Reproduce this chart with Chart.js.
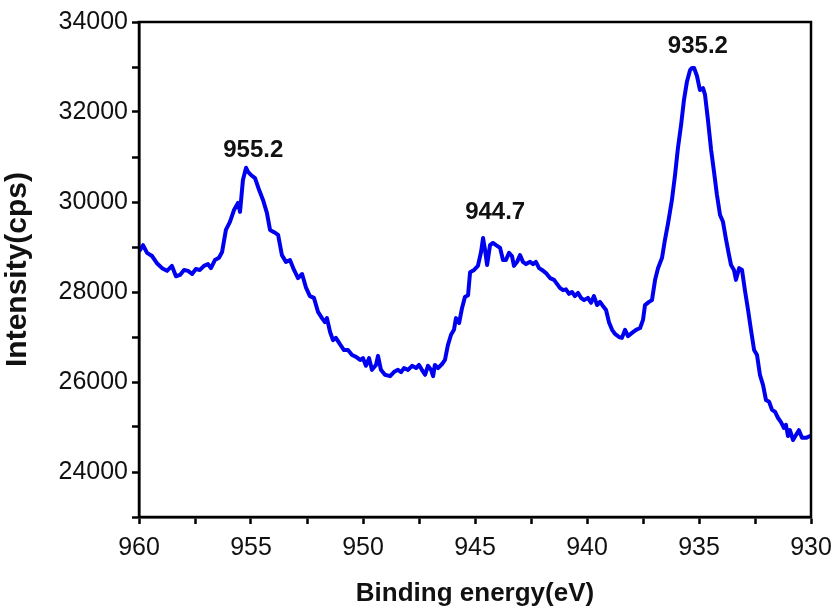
<!DOCTYPE html>
<html>
<head>
<meta charset="utf-8">
<script src="https://cdn.jsdelivr.net/npm/chart.js@4/dist/chart.umd.min.js"></script>
<style>
	html, body { margin: 0; padding: 0; background: #fff; }
	#chart-parent { width: 833px; height: 610px; }
</style>
</head>
<body>
<div id="chart-parent"><canvas id="chart" width="833" height="610"></canvas></div>
<script>
// values (binding energy in eV, intensity in cps)
var bindingEnergy = [
	959.96, 959.82, 959.64, 959.42, 959.20, 958.97, 958.75, 958.53, 958.35, 958.17,
	957.99, 957.81, 957.63, 957.46, 957.28, 957.10, 956.92, 956.79, 956.61, 956.43,
	956.29, 956.12, 955.94, 955.76, 955.58, 955.49, 955.36, 955.22, 955.13, 955.00,
	954.82, 954.64, 954.46, 954.29, 954.15, 953.97, 953.79, 953.62, 953.44, 953.26,
	953.08, 952.90, 952.72, 952.54, 952.37, 952.19, 952.01, 951.83, 951.70, 951.61,
	951.47, 951.34, 951.21, 951.03, 950.85, 950.67, 950.49, 950.31, 950.13, 950.00,
	949.87, 949.73, 949.60, 949.42, 949.33, 949.20, 949.02, 948.79, 948.62, 948.44,
	948.30, 948.17, 947.99, 947.81, 947.63, 947.50, 947.37, 947.23, 947.10, 946.96,
	946.87, 946.79, 946.65, 946.47, 946.34, 946.21, 946.07, 945.94, 945.85, 945.71,
	945.58, 945.45, 945.31, 945.22, 945.04, 944.87, 944.73, 944.64, 944.55, 944.46,
	944.33, 944.20, 944.06, 943.88, 943.75, 943.62, 943.48, 943.35, 943.26, 943.12,
	942.99, 942.86, 942.72, 942.54, 942.41, 942.28, 942.14, 942.01, 941.83, 941.65,
	941.47, 941.34, 941.21, 941.07, 940.94, 940.80, 940.67, 940.54, 940.40, 940.27,
	940.13, 939.96, 939.82, 939.69, 939.55, 939.42, 939.29, 939.15, 939.02, 938.88,
	938.75, 938.57, 938.44, 938.30, 938.17, 937.99, 937.81, 937.63, 937.50, 937.41,
	937.23, 937.10, 936.96, 936.83, 936.65, 936.52, 936.38, 936.21, 936.07, 935.94,
	935.80, 935.67, 935.54, 935.40, 935.31, 935.22, 935.09, 934.96, 934.82, 934.73,
	934.60, 934.46, 934.33, 934.20, 934.06, 933.93, 933.79, 933.66, 933.57, 933.44,
	933.35, 933.21, 933.08, 932.95, 932.81, 932.68, 932.54, 932.41, 932.28, 932.14,
	932.01, 931.87, 931.74, 931.61, 931.47, 931.34, 931.21, 931.12, 931.03, 930.94,
	930.80, 930.67, 930.54, 930.40, 930.22, 930.04
];
var intensity = [
	28930, 29040, 28870, 28800, 28640, 28530, 28470, 28580, 28350, 28380,
	28490, 28470, 28400, 28510, 28490, 28580, 28620, 28530, 28710, 28760,
	28890, 29380, 29560, 29820, 29980, 29780, 30490, 30760, 30670, 30600,
	30530, 30270, 30040, 29760, 29380, 29330, 29270, 28820, 28670, 28710,
	28490, 28310, 28400, 28090, 27910, 27870, 27560, 27420, 27330, 27420,
	27110, 26930, 26980, 26840, 26710, 26710, 26600, 26560, 26490, 26530,
	26360, 26530, 26270, 26380, 26580, 26270, 26160, 26130, 26220, 26270,
	26220, 26310, 26270, 26360, 26310, 26380, 26270, 26160, 26360, 26270,
	26130, 26380, 26310, 26400, 26490, 26820, 27050, 27160, 27420, 27310,
	27640, 27890, 27930, 28440, 28490, 28580, 28890, 29200, 28930, 28600,
	29040, 29090, 29040, 28980, 28710, 28710, 28870, 28800, 28580, 28670,
	28820, 28670, 28620, 28670, 28620, 28670, 28530, 28490, 28420, 28310,
	28270, 28180, 28090, 28040, 28060, 27960, 28000, 27910, 27980, 27870,
	27820, 27870, 27760, 27910, 27710, 27780, 27690, 27600, 27330, 27160,
	27070, 27000, 26980, 27160, 27020, 27090, 27160, 27200, 27380, 27710,
	27780, 27820, 28270, 28530, 28760, 29160, 29530, 30040, 30600, 31200,
	31710, 32270, 32670, 32930, 32980, 32980, 32800, 32490, 32530, 32380,
	31820, 31160, 30670, 30160, 29710, 29560, 29160, 28820, 28600, 28490,
	28270, 28530, 28490, 28040, 27600, 27160, 26710, 26600, 26160, 25930,
	25600, 25560, 25380, 25340, 25200, 25110, 24980, 25050, 24800, 24930,
	24710, 24820, 24930, 24760, 24760, 24800, 24820
];

var peakLabels = ['955.2', '944.7', '935.2'];
var peakLabelX = [954.9, 944.1, 935.05];
var peakLabelY = [31150, 29760, 33450];

var xMin = 930, xMax = 960;
var yMin = 23000, yMax = 34000;

function buildPoints() {
	var pts = [];
	for (var i = 0; i < bindingEnergy.length; i++)
		pts.push({x: bindingEnergy[i], y: intensity[i]});
	return pts;
}

// box round the plot area and the peak positions
var framePlugin = {
	id: 'frame',
	afterDatasetsDraw: function(chart) {
		var ctx = chart.ctx;
		var a = chart.chartArea;
		ctx.save();
		ctx.strokeStyle = '#000';
		ctx.lineWidth = 2.5;
		ctx.strokeRect(a.left, a.top, a.right - a.left, a.bottom - a.top);

		var xs = chart.scales.x, ys = chart.scales.y;
		ctx.fillStyle = '#111';
		ctx.font = 'bold 24px "Liberation Sans", Arial, sans-serif';
		ctx.textAlign = 'center';
		ctx.textBaseline = 'middle';
		for (var i = 0; i < peakLabels.length; i++)
			ctx.fillText(peakLabels[i], xs.getPixelForValue(peakLabelX[i]), ys.getPixelForValue(peakLabelY[i]));
		ctx.restore();
	}
};

function createChart() {
	new Chart(document.getElementById('chart'), {
		type: 'line',
		data: {
			datasets: [{
				data: buildPoints(),
				borderColor: '#0000f0',
				borderWidth: 4,
				borderJoinStyle: 'round',
				borderCapStyle: 'round',
				pointRadius: 0,
				tension: 0,
				fill: false
			}]
		},
		options: {
			responsive: false,
			animation: false,
			layout: { padding: { left: 0, right: 22, top: 22, bottom: 0 } },
			plugins: {
				legend: { display: false },
				tooltip: { enabled: false }
			},
			scales: {
				x: {
					type: 'linear',
					reverse: true,
					min: xMin,
					max: xMax,
					afterBuildTicks: function(scale) {
						var t = [];
						for (var v = xMin; v <= xMax + 0.01; v += 2.5) t.push({value: v});
						scale.ticks = t;
					},
					afterFit: function(scale) { scale.height = 93; },
					ticks: {
						autoSkip: false,
						maxRotation: 0,
						padding: 9,
						color: '#111',
						font: { family: '"Liberation Sans", Arial, sans-serif', size: 25 },
						callback: function(v) { return (v % 5 === 0) ? String(v) : ''; }
					},
					grid: { drawOnChartArea: false, drawTicks: true, tickLength: 7, tickWidth: 2.5, tickColor: '#000' },
					border: { color: '#000', width: 2.5 },
					title: {
						display: true,
						text: 'Binding energy(eV)',
						color: '#111',
						font: { family: '"Liberation Sans", Arial, sans-serif', size: 26, weight: 'bold' },
						padding: { top: 0, bottom: 1 }
					}
				},
				y: {
					min: yMin,
					max: yMax,
					afterBuildTicks: function(scale) {
						var t = [];
						for (var v = yMin; v <= yMax; v += 1000) t.push({value: v});
						scale.ticks = t;
					},
					afterFit: function(scale) { scale.width = 139; },
					ticks: {
						autoSkip: false,
						padding: 4,
						color: '#111',
						font: { family: '"Liberation Sans", Arial, sans-serif', size: 25 },
						callback: function(v) { return (v % 2000 === 0) ? String(v) : ''; }
					},
					grid: { drawOnChartArea: false, drawTicks: true, tickLength: 7, tickWidth: 2.5, tickColor: '#000' },
					border: { color: '#000', width: 2.5 },
					title: {
						display: true,
						text: 'Intensity(cps)',
						color: '#111',
						font: { family: '"Liberation Sans", Arial, sans-serif', size: 30, weight: 'bold' },
						padding: { top: 0, bottom: 4 }
					}
				}
			}
		},
		plugins: [framePlugin]
	});
}

createChart();
</script>
</body>
</html>
